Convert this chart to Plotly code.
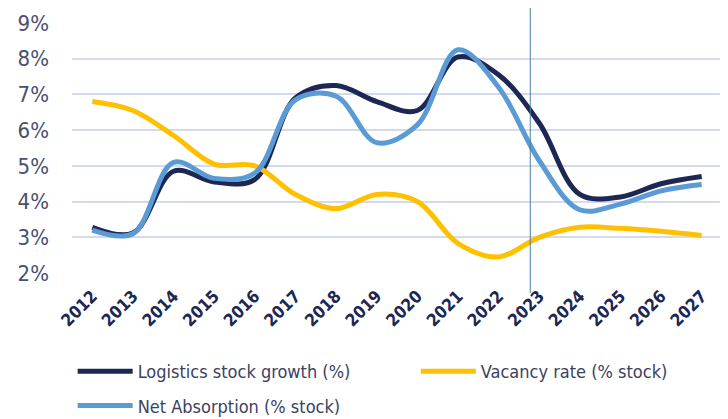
import plotly.graph_objects as go

years = list(range(2012, 2028))
stock_growth = [3.28, 3.12, 4.85, 4.55, 4.62, 6.9, 7.25, 6.8, 6.55, 8.05, 7.55, 6.2, 4.2, 4.13, 4.5, 4.7]
vacancy = [6.8, 6.55, 5.85, 5.05, 5.0, 4.2, 3.8, 4.2, 4.0, 2.83, 2.45, 3.0, 3.28, 3.25, 3.17, 3.05]
net_absorption = [3.2, 3.1, 5.1, 4.65, 4.8, 6.85, 6.95, 5.65, 6.15, 8.25, 7.2, 5.15, 3.77, 3.93, 4.3, 4.48]
y_ticks = [2, 3, 4, 5, 6, 7, 8, 9]
marker_year = 2022.78

FONT = "DejaVu Sans Condensed, Roboto Condensed, Liberation Sans Narrow, DejaVu Sans, sans-serif"

fig = go.Figure()
fig.add_trace(go.Scatter(x=years, y=stock_growth, name="Logistics stock growth (%)", mode="lines",
                         legend="legend", legendgroup="a",
                         line=dict(color="#1C2754", width=5, shape="spline", smoothing=1.0)))
fig.add_trace(go.Scatter(x=years, y=vacancy, name="Vacancy rate (% stock)", mode="lines",
                         legend="legend2", legendgroup="b",
                         line=dict(color="#FFC000", width=5, shape="spline", smoothing=1.0)))
fig.add_trace(go.Scatter(x=years, y=net_absorption, name="Net Absorption (% stock)", mode="lines",
                         legend="legend", legendgroup="c",
                         line=dict(color="#5B9BD5", width=5, shape="spline", smoothing=1.0)))

fig.add_shape(type="line", xref="x", yref="paper", x0=marker_year, x1=marker_year, y0=-0.08, y1=1.07,
              line=dict(color="#4A7FA3", width=1))

legend_font = dict(family=FONT, size=18, color="#3B4260")
fig.update_layout(
    width=720, height=411,
    margin=dict(l=64, r=6, t=15, b=146, autoexpand=False),
    paper_bgcolor="white", plot_bgcolor="white",
    font=dict(family=FONT, color="#4A5070"),
    xaxis=dict(range=[2011.5, 2027.5], tickmode="array", tickvals=years, ticktext=[str(y) for y in years],
               tickangle=-45, showgrid=False, zeroline=False, showline=False, ticks="",
               ticklabelstandoff=9,
               tickfont=dict(family=FONT, size=17, color="#1C2754", weight="bold")),
    yaxis=dict(range=[2, 9], tickmode="array", tickvals=y_ticks, ticktext=[f"{v}%" for v in y_ticks],
               showgrid=True, gridcolor="#D5D9EE", gridwidth=2, zeroline=False, showline=False,
               ticks="", ticklabelstandoff=22,
               tickfont=dict(family=FONT, size=22, color="#4A5070")),
    legend=dict(orientation="v", x=0.001, y=-0.32, xanchor="left", yanchor="top",
                itemwidth=55, font=legend_font, tracegroupgap=8, traceorder="grouped"),
    legend2=dict(orientation="v", x=0.529, y=-0.32, xanchor="left", yanchor="top",
                 itemwidth=55, font=legend_font),
    showlegend=True,
)

fig.write_html("out.html")
